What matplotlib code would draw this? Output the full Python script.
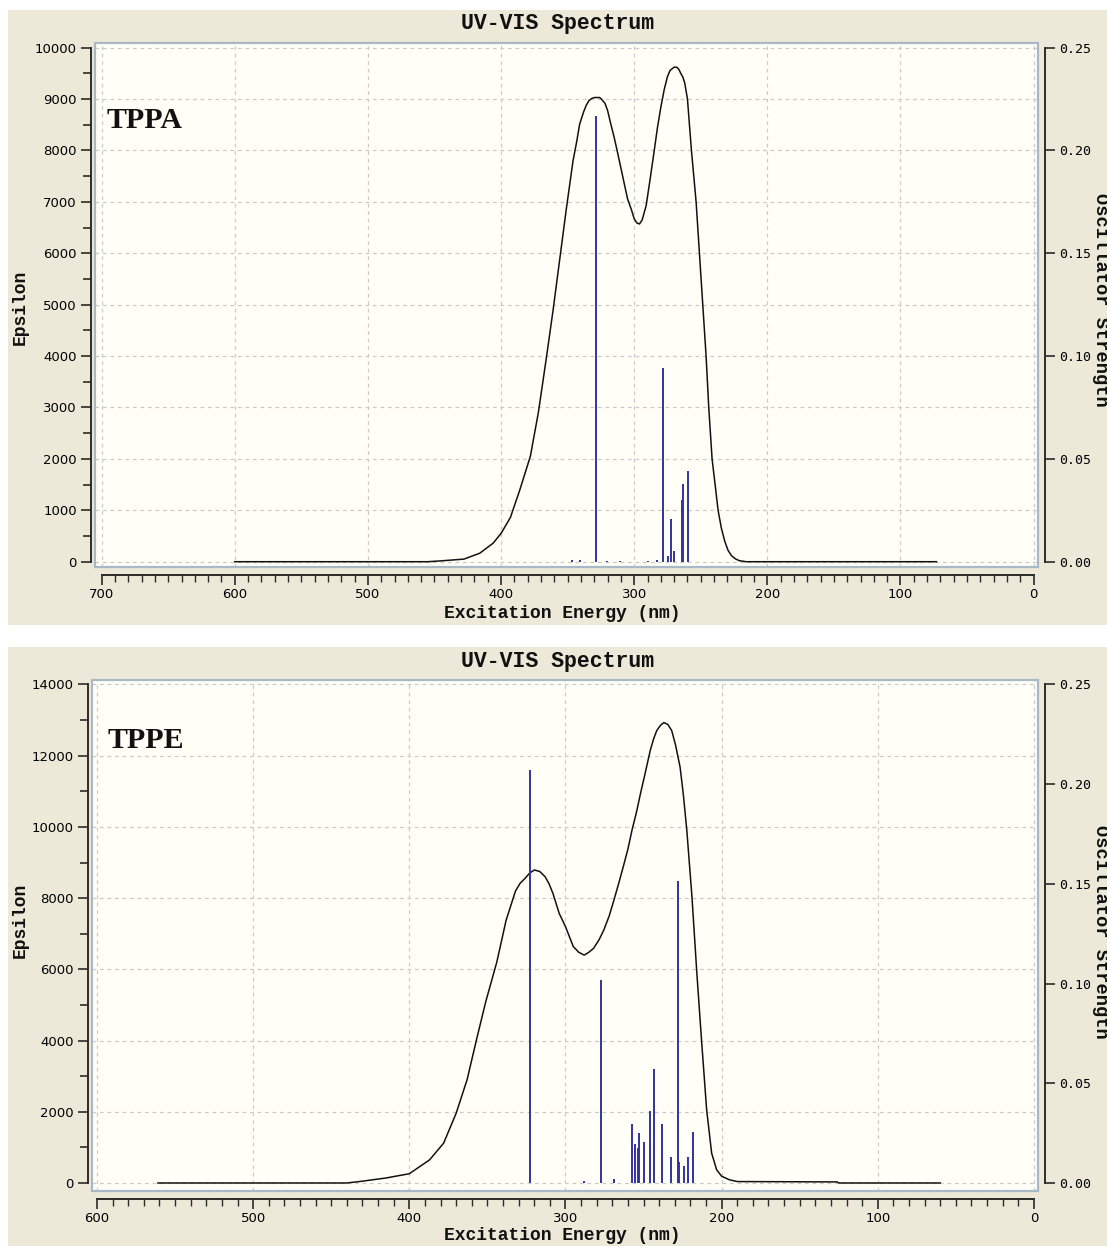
import matplotlib
matplotlib.use("Agg")
import matplotlib.pyplot as plt
from matplotlib.patches import Rectangle
from matplotlib.ticker import MultipleLocator, FormatStrFormatter

# ---- TPPA (top panel) ----
tppa_nm = [600, 455, 446, 428, 416, 406, 400, 393, 386, 378, 372, 366, 361, 356, 351,
           346, 343, 341, 338, 336, 334, 332, 330, 328, 326, 325, 322, 320, 318, 315,
           312.5, 310, 307.5, 305, 302, 300, 298, 296, 294, 291, 288, 285, 282.5, 280, 277.5,
           275, 273, 271, 270, 268, 266.5, 265, 263.5, 262, 260, 257, 253.5, 251, 248.5,
           246, 244, 241.5, 239, 237, 234.5, 232, 229.5, 227, 224, 221, 216, 73]
tppa_eps = [0, 0, 15, 50, 165, 360, 550, 860, 1390, 2050, 2900, 3960, 4880, 5870, 6860,
            7790, 8200, 8510, 8750, 8880, 8970, 9010, 9030, 9030, 9030, 9010, 8920, 8780, 8560, 8250,
            7960, 7660, 7360, 7060, 6840, 6670, 6590, 6570, 6650, 6930, 7450, 7990, 8450, 8840, 9180,
            9440, 9560, 9600, 9620, 9620, 9580, 9500, 9430, 9310, 9000, 8000, 7000, 6000, 5000,
            4000, 3000, 2000, 1450, 1000, 650, 400, 220, 120, 55, 20, 0, 0]
tppa_stick_nm = [346.7, 340.7, 328.7, 320.6, 310.6, 289.6, 283.0, 278.1, 274.8, 272.5,
                 269.8, 264.1, 263.1, 259.6]
tppa_stick_f = [0.0008, 0.001, 0.217, 0.0005, 0.0005, 0.0005, 0.0008, 0.094, 0.003, 0.021,
                0.005, 0.030, 0.038, 0.044]

# ---- TPPE (bottom panel) ----
tppe_nm = [561, 440, 431, 415, 400, 387, 378, 370, 363, 357, 351, 344, 338, 332, 329,
           326, 323, 320, 316.5, 313, 310.5, 308, 304, 300, 295, 291.5, 288, 285, 282, 278.5,
           275.5, 272, 269, 266, 263, 260, 257.4, 254.5, 252, 249, 245.7, 243.5, 241.5, 239,
           237, 234.5, 232, 229.5, 226.6, 224.5, 222.3, 219, 216, 212.8, 209.6, 206.4, 203.2,
           200, 195, 190, 126, 125, 60]
tppe_eps = [0, 0, 45, 140, 260, 650, 1120, 1960, 2900, 4020, 5100, 6200, 7380, 8200, 8420,
            8550, 8700, 8790, 8750, 8600, 8400, 8130, 7570, 7200, 6640, 6480, 6400, 6480, 6590, 6830,
            7100, 7500, 7940, 8400, 8880, 9380, 9910, 10420, 10930, 11500, 12150, 12480, 12710, 12860,
            12930, 12880, 12710, 12300, 11680, 10900, 9910, 8040, 5980, 3970, 2060, 840, 370,
            190, 90, 40, 30, 0, 0]
tppe_stick_nm = [323.0, 288.3, 277.4, 268.7, 257.2, 255.7, 253.6, 252.8, 249.6, 245.7,
                 243.2, 238.1, 232.6, 228.1, 227.4, 224.3, 221.7, 218.5]
tppe_stick_f = [0.207, 0.0008, 0.1018, 0.002, 0.0295, 0.0197, 0.0175, 0.025, 0.0204, 0.0362,
                0.0574, 0.0295, 0.013, 0.1514, 0.0107, 0.0087, 0.013, 0.0257]

W, H = 1107, 1246
BEIGE = "#ECE9D8"
PLOT_BG = "#FFFFF7"
BORDER = "#A9B8C6"
GRID = "#CACACA"
AXIS = "#2b2b2b"
STICK = "#3333A0"
MONO = "Liberation Mono"

fig = plt.figure(figsize=(W / 100, H / 100), dpi=100, facecolor="white")


def fbox(x0, y0, x1, y1):
    # pixel box (top-left origin) -> figure fraction rect
    return [x0 / W, 1 - y1 / H, (x1 - x0) / W, (y1 - y0) / H]


# beige window panels
for y0, y1 in [(10, 625), (647, 1246)]:
    fig.add_artist(Rectangle((8 / W, 1 - y1 / H), (W - 8) / W, (y1 - y0) / H,
                             transform=fig.transFigure, facecolor=BEIGE,
                             edgecolor="none", zorder=-10))


def draw_panel(box, nm, eps, stick_nm, stick_f, xlim, ylim, xmax, ymax, ystep, fscale):
    ax = fig.add_axes(fbox(*box))
    ax.set_facecolor(PLOT_BG)
    ax.plot(nm, eps, color="#111111", lw=1.1, zorder=3)
    ax.set_xlim(*xlim)
    ax.set_ylim(*ylim)

    ax.xaxis.set_major_locator(MultipleLocator(100))
    ax.xaxis.set_minor_locator(MultipleLocator(10))
    ax.yaxis.set_major_locator(MultipleLocator(ystep))
    ax.yaxis.set_minor_locator(MultipleLocator(ystep / 2))
    ax.yaxis.set_major_formatter(FormatStrFormatter("%d"))
    ax.grid(True, which="major", color=GRID, ls=(0, (3, 3)), lw=0.9)
    ax.set_axisbelow(True)

    for s in ["top", "right"]:
        ax.spines[s].set_visible(False)
    ax.spines["left"].set_position(("outward", 3))
    ax.spines["left"].set_bounds(0, ymax)
    ax.spines["bottom"].set_position(("outward", 6))
    ax.spines["bottom"].set_bounds(xmax, 0)
    for s in ["left", "bottom"]:
        ax.spines[s].set_color(AXIS)
        ax.spines[s].set_linewidth(1.4)

    ax.tick_params(axis="y", which="major", direction="out", length=7, width=1.2,
                   color=AXIS, pad=3, labelsize=9.5, labelfontfamily="DejaVu Sans")
    ax.tick_params(axis="y", which="minor", direction="out", length=6, width=1.2, color=AXIS)
    ax.tick_params(axis="x", which="major", direction="out", length=7, width=1.2,
                   color=AXIS, pad=2, labelsize=9.5, labelfontfamily="DejaVu Sans")
    ax.tick_params(axis="x", which="minor", direction="out", length=5, width=1.0, color=AXIS)

    ax2 = ax.twinx()
    ax2.vlines(stick_nm, 0, stick_f, color=STICK, lw=1.4, zorder=2)
    ax2.set_ylim(ylim[0] / fscale, ylim[1] / fscale)
    ax2.yaxis.set_major_locator(MultipleLocator(0.05))
    ax2.yaxis.set_major_formatter(FormatStrFormatter("%.2f"))
    for s in ["top", "left", "bottom"]:
        ax2.spines[s].set_visible(False)
    ax2.spines["right"].set_position(("outward", 5))
    ax2.spines["right"].set_bounds(0, 0.25)
    ax2.spines["right"].set_color(AXIS)
    ax2.spines["right"].set_linewidth(1.4)
    ax2.tick_params(axis="y", direction="out", length=7, width=1.2, color=AXIS, pad=3,
                    labelsize=9.5, labelfontfamily="DejaVu Sans Mono")

    ax.add_patch(Rectangle((0, 0), 1, 1, transform=ax.transAxes, fill=False,
                           edgecolor=BORDER, lw=1.6, clip_on=False, zorder=5))
    return ax


# top panel: TPPA
draw_panel((95, 43, 1038, 567), tppa_nm, tppa_eps, tppa_stick_nm, tppa_stick_f,
           xlim=(705.0, -3.3), ylim=(-103, 10091), xmax=700, ymax=10000, ystep=1000,
           fscale=40000)
# bottom panel: TPPE
draw_panel((92, 680, 1038, 1191), tppe_nm, tppe_eps, tppe_stick_nm, tppe_stick_f,
           xlim=(603.2, -2.6), ylim=(-225, 14126), xmax=600, ymax=14000, ystep=2000,
           fscale=56000)


def ftext(x, y, s, **kw):
    fig.text(x / W, 1 - y / H, s, **kw)


bold_mono = dict(family=MONO, weight="bold", color="#111111")
for title_y, xlab_y, eps_y, osc_y in [(24, 614, 307, 300), (661, 1236, 920, 932)]:
    ftext(558, title_y, "UV-VIS Spectrum", ha="center", va="center", fontsize=15.5, **bold_mono)
    ftext(562, xlab_y, "Excitation Energy (nm)", ha="center", va="center", fontsize=13, **bold_mono)
    ftext(20, eps_y, "Epsilon", ha="center", va="center", rotation=90, fontsize=13, **bold_mono)
    ftext(1100, osc_y, "Oscillator Strength", ha="center", va="center", rotation=-90,
          fontsize=13.5, **bold_mono)

label_font = dict(family="Liberation Serif", weight="bold", fontsize=21.5, color="#111111")
ftext(107, 128, "TPPA", ha="left", va="baseline", **label_font)
ftext(108, 748, "TPPE", ha="left", va="baseline", **label_font)

fig.savefig("out.png", dpi=100, facecolor="white")
